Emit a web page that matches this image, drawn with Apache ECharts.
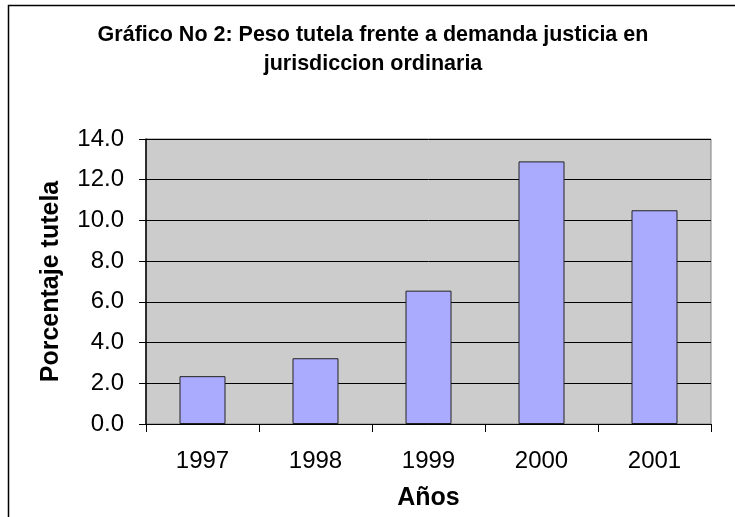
<!DOCTYPE html>
<html>
<head>
<meta charset="utf-8">
<script src="https://cdn.jsdelivr.net/npm/echarts@6/dist/echarts.min.js"></script>
<style>
html,body{margin:0;padding:0;background:#fff;overflow:hidden;}
#c{width:735px;height:517px;}
</style>
</head>
<body>
<div id="c"></div>
<script>
var titleText = "Gráfico No 2: Peso tutela frente a demanda justicia en\njurisdiccion ordinaria";
var categories = ["1997", "1998", "1999", "2000", "2001"];
var values = [2.35, 3.23, 6.55, 12.9, 10.5];
var yAxisTitle = "Porcentaje tutela";
var xAxisTitle = "Años";

var chart = echarts.init(document.getElementById('c'), null, {renderer: 'canvas'});
var font = '"Liberation Sans", Arial, sans-serif';
chart.setOption({
  animation: false,
  backgroundColor: '#ffffff',
  textStyle: {fontFamily: font},
  title: {
    text: titleText,
    left: 368, top: 16, textAlign: 'center',
    textStyle: {fontFamily: font, fontWeight: 'bold', fontSize: 21.5, color: '#000', lineHeight: 29}
  },
  graphic: [{
    type: 'rect', shape: {x: 8.5, y: 5.5, width: 760, height: 540},
    style: {fill: 'none', stroke: '#000', lineWidth: 1.5}, silent: true, z: -1
  }],
  grid: {left: 146, right: 24, top: 139, bottom: 93, outerBoundsMode: 'none', containLabel: false,
         show: true, backgroundColor: '#cccccc', borderColor: '#808080', borderWidth: 1},
  xAxis: {
    type: 'category', data: categories,
    name: xAxisTitle, nameLocation: 'middle', nameGap: 62,
    nameTextStyle: {fontFamily: font, fontWeight: 'bold', fontSize: 25, color: '#000'},
    axisLine: {lineStyle: {color: '#000', width: 1}},
    axisTick: {show: true, inside: false, length: 8, alignWithLabel: false, lineStyle: {color: '#000'}},
    axisLabel: {fontFamily: font, fontSize: 24, color: '#000', margin: 25}
  },
  yAxis: {
    type: 'value', min: 0, max: 14, interval: 2,
    name: yAxisTitle, nameLocation: 'middle', nameGap: 82,
    nameTextStyle: {fontFamily: font, fontWeight: 'bold', fontSize: 25, color: '#000'},
    axisLine: {show: true, lineStyle: {color: '#000', width: 1.5}},
    axisTick: {show: true, inside: false, length: 7, lineStyle: {color: '#000'}},
    axisLabel: {fontFamily: font, fontSize: 24, color: '#000', margin: 22, formatter: function (v) { return v.toFixed(1); }},
    splitLine: {show: true, lineStyle: {color: '#000', width: 1}}
  },
  series: [{
    type: 'bar', data: values, barWidth: 46,
    itemStyle: {color: '#aaaaff', borderColor: '#222', borderWidth: 1}
  }]
});
</script>
</body>
</html>
